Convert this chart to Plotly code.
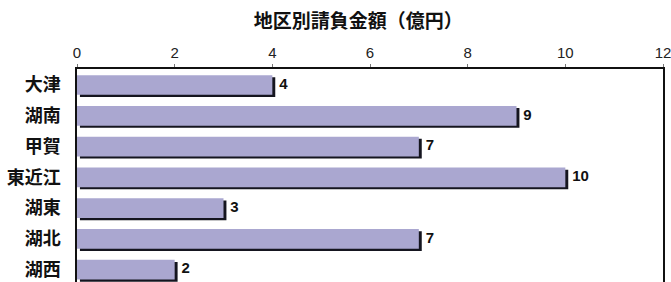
import plotly.graph_objects as go

regions = ["大津", "湖南", "甲賀", "東近江", "湖東", "湖北", "湖西"]
amounts = [4.0, 9.0, 7.0, 10.0, 3.0, 7.0, 2.0]
labels = ["4", "9", "7", "10", "3", "7", "2"]
x_ticks = [0, 2, 4, 6, 8, 10, 12]

bar_w = 0.64
fig = go.Figure()
# shadow
fig.add_trace(go.Bar(
    y=regions, x=amounts, base=[0.06] * len(amounts), orientation="h",
    width=bar_w, offset=-bar_w / 2 + 0.07,
    marker=dict(color="#15151f", line=dict(width=0)),
    hoverinfo="skip", showlegend=False,
))
# main bar
fig.add_trace(go.Bar(
    y=regions, x=amounts, orientation="h",
    width=bar_w, offset=-bar_w / 2,
    marker=dict(color="#aaa7d0", line=dict(width=0)),
    showlegend=False,
))
# value labels
fig.add_trace(go.Scatter(
    y=regions, x=[a + 0.14 for a in amounts], mode="text",
    text=labels, textposition="middle right",
    textfont=dict(family="Liberation Sans", size=15, color="#111111", weight="bold"),
    showlegend=False, hoverinfo="skip", cliponaxis=False,
))

fig.update_layout(
    width=671, height=282,
    margin=dict(l=77, r=8, t=69, b=0),
    paper_bgcolor="white", plot_bgcolor="white",
    barmode="overlay",
    title=dict(text="<b>地区別請負金額（億円）</b>", x=0.534, xanchor="center", y=0.925, yanchor="middle",
               font=dict(family="Noto Sans CJK JP", size=19, color="#111111")),
    xaxis=dict(side="top", range=[0, 12], tickvals=x_ticks, showgrid=False, zeroline=False,
               automargin=False, ticklabeloverflow="allow",
               showline=True, linecolor="#111111", linewidth=1.5, mirror=True,
               ticks="outside", ticklen=3, tickcolor="#777777",
               tickfont=dict(family="Liberation Sans", size=15, color="#222222")),
    yaxis=dict(autorange=False, range=[6.40, -0.52], type="category", automargin=False,
               showgrid=False, showline=True, linecolor="#111111", linewidth=1.5, mirror=True,
               ticks="", ticklabelstandoff=11,
               tickfont=dict(family="Noto Sans CJK JP", size=18, color="#111111", weight="bold")),
)
fig.write_html(
    "out.html",
    config={"displayModeBar": False},
    post_script="document.body.style.margin='0';document.body.style.overflow='hidden';",
)
